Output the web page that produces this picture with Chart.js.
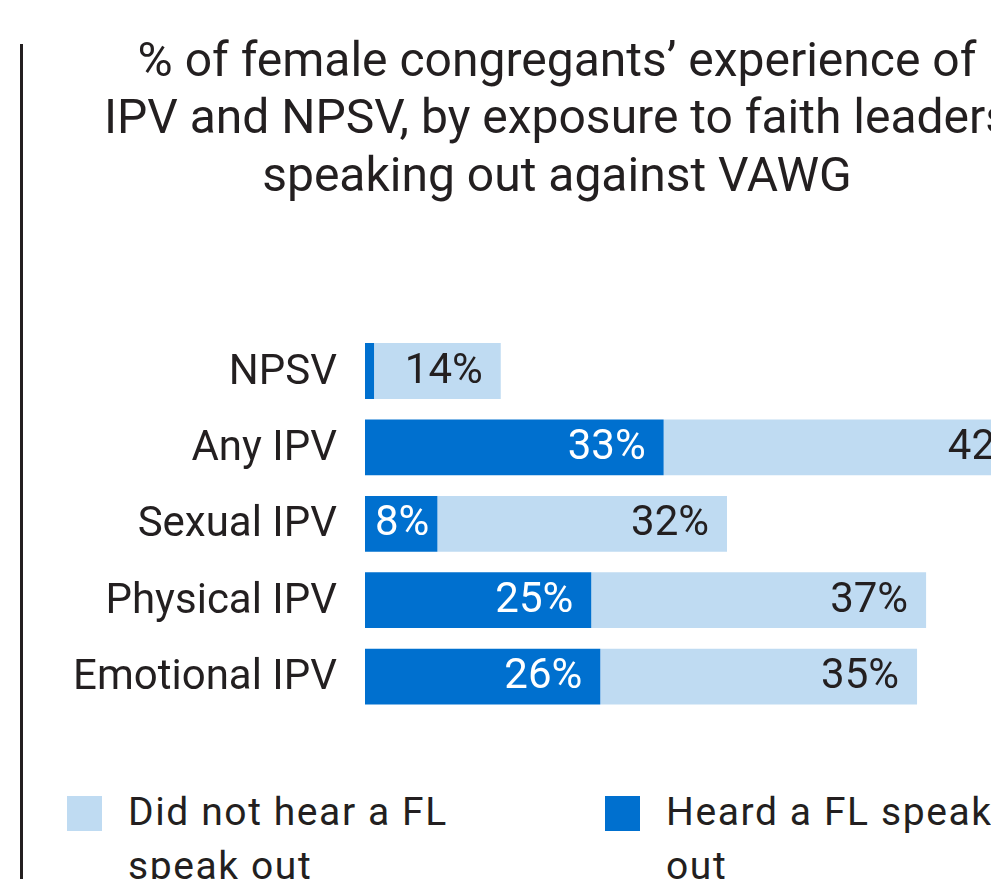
<!DOCTYPE html>
<html>
<head>
<meta charset="utf-8">
<script src="https://cdn.jsdelivr.net/npm/chart.js@4"></script>
<style>
  html, body { margin:0; padding:0; overflow:hidden; background:#fff; }
  body { width:991px; height:879px; position:relative; font-family: Roboto, sans-serif; }
  #frame { position:absolute; left:20px; top:44px; width:3px; height:900px; background:#231f20; }
  #grafico { position:absolute; left:25px; top:0; }
  #legenda { position:absolute; top:796px; left:0; width:1200px; }
  .item { position:absolute; top:0; display:flex; align-items:flex-start; }
  .box { width:35px; height:35px; flex:none; }
  .txt { width:370px; font-size:39px; line-height:54px; letter-spacing:1.6px; color:#231f20; margin-top:-11px; margin-left:26px; }
</style>
</head>
<body>
<div id="frame"></div>
<canvas id="grafico" width="1064" height="768"></canvas>
<div id="legenda"></div>
<script>
const categorias = ["NPSV", "Any IPV", "Sexual IPV", "Physical IPV", "Emotional IPV"];
const ouviu = [1, 33, 8, 25, 26];        // Heard a FL speak out
const naoOuviu = [14, 42, 32, 37, 35];   // Did not hear a FL speak out
const tituloLinhas = [
  "% of female congregants\u2019 experience of",
  "IPV and NPSV, by exposure to faith leaders",
  "speaking out against VAWG"
];

const corEscura = "#0070cf";
const corClara = "#bfdbf2";
const corTexto = "#231f20";

// rotulos de valor no fim de cada segmento
const rotulos = {
  id: "rotulos",
  afterDatasetsDraw(chart){
    const ctx = chart.ctx;
    ctx.save();
    ctx.font = "42px Roboto";
    ctx.textBaseline = "middle";
    ctx.textAlign = "left";
    chart.data.datasets.forEach((ds, i)=>{
      const meta = chart.getDatasetMeta(i);
      meta.data.forEach((bar, j)=>{
        const v = ds.data[j];
        if(v < 3) return;
        const txt = v + "%";
        const w = ctx.measureText(txt).width;
        let x = bar.x - 18 - w;
        if(x < bar.base + 10) x = bar.base + 10;
        ctx.fillStyle = i === 0 ? "#ffffff" : corTexto;
        ctx.fillText(txt, x, bar.y + 1);
      });
    });
    ctx.restore();
  }
};

const grafico = new Chart(document.getElementById("grafico"), {
  type: "bar",
  data: {
    labels: categorias,
    datasets: [
      { label: "Heard a FL speak out", data: ouviu, backgroundColor: corEscura },
      { label: "Did not hear a FL speak out", data: naoOuviu, backgroundColor: corClara }
    ]
  },
  options: {
    indexAxis: "y",
    responsive: false,
    animation: false,
    layout: { padding: 0 },
    categoryPercentage: 1,
    barPercentage: 0.73,
    scales: {
      x: { stacked: true, min: 0, max: 80, display: false },
      y: {
        stacked: true,
        grid: { display: false, drawTicks: false },
        border: { display: false },
        ticks: { color: corTexto, font: { family: "Roboto", size: 42 }, padding: 28, labelOffset: 2 },
        afterFit(axis){ axis.width = 340; }
      }
    },
    plugins: {
      legend: { display: false },
      tooltip: { enabled: false },
      title: {
        display: true,
        text: tituloLinhas,
        color: corTexto,
        font: { family: "Roboto", size: 48, weight: "normal", lineHeight: 1.2 },
        padding: { top: 35, bottom: 125 }
      }
    }
  },
  plugins: [rotulos]
});

// legenda em html (ordem: clara primeiro)
const legenda = document.getElementById("legenda");
const itens = [
  { texto: grafico.data.datasets[1].label, cor: corClara, left: 67 },
  { texto: grafico.data.datasets[0].label, cor: corEscura, left: 605 }
];
itens.forEach(it=>{
  const d = document.createElement("div");
  d.className = "item";
  d.style.left = it.left + "px";
  d.innerHTML = '<div class="box" style="background:' + it.cor + '"></div>' +
    '<div class="txt">' + it.texto + '</div>';
  legenda.appendChild(d);
});
</script>
</body>
</html>
